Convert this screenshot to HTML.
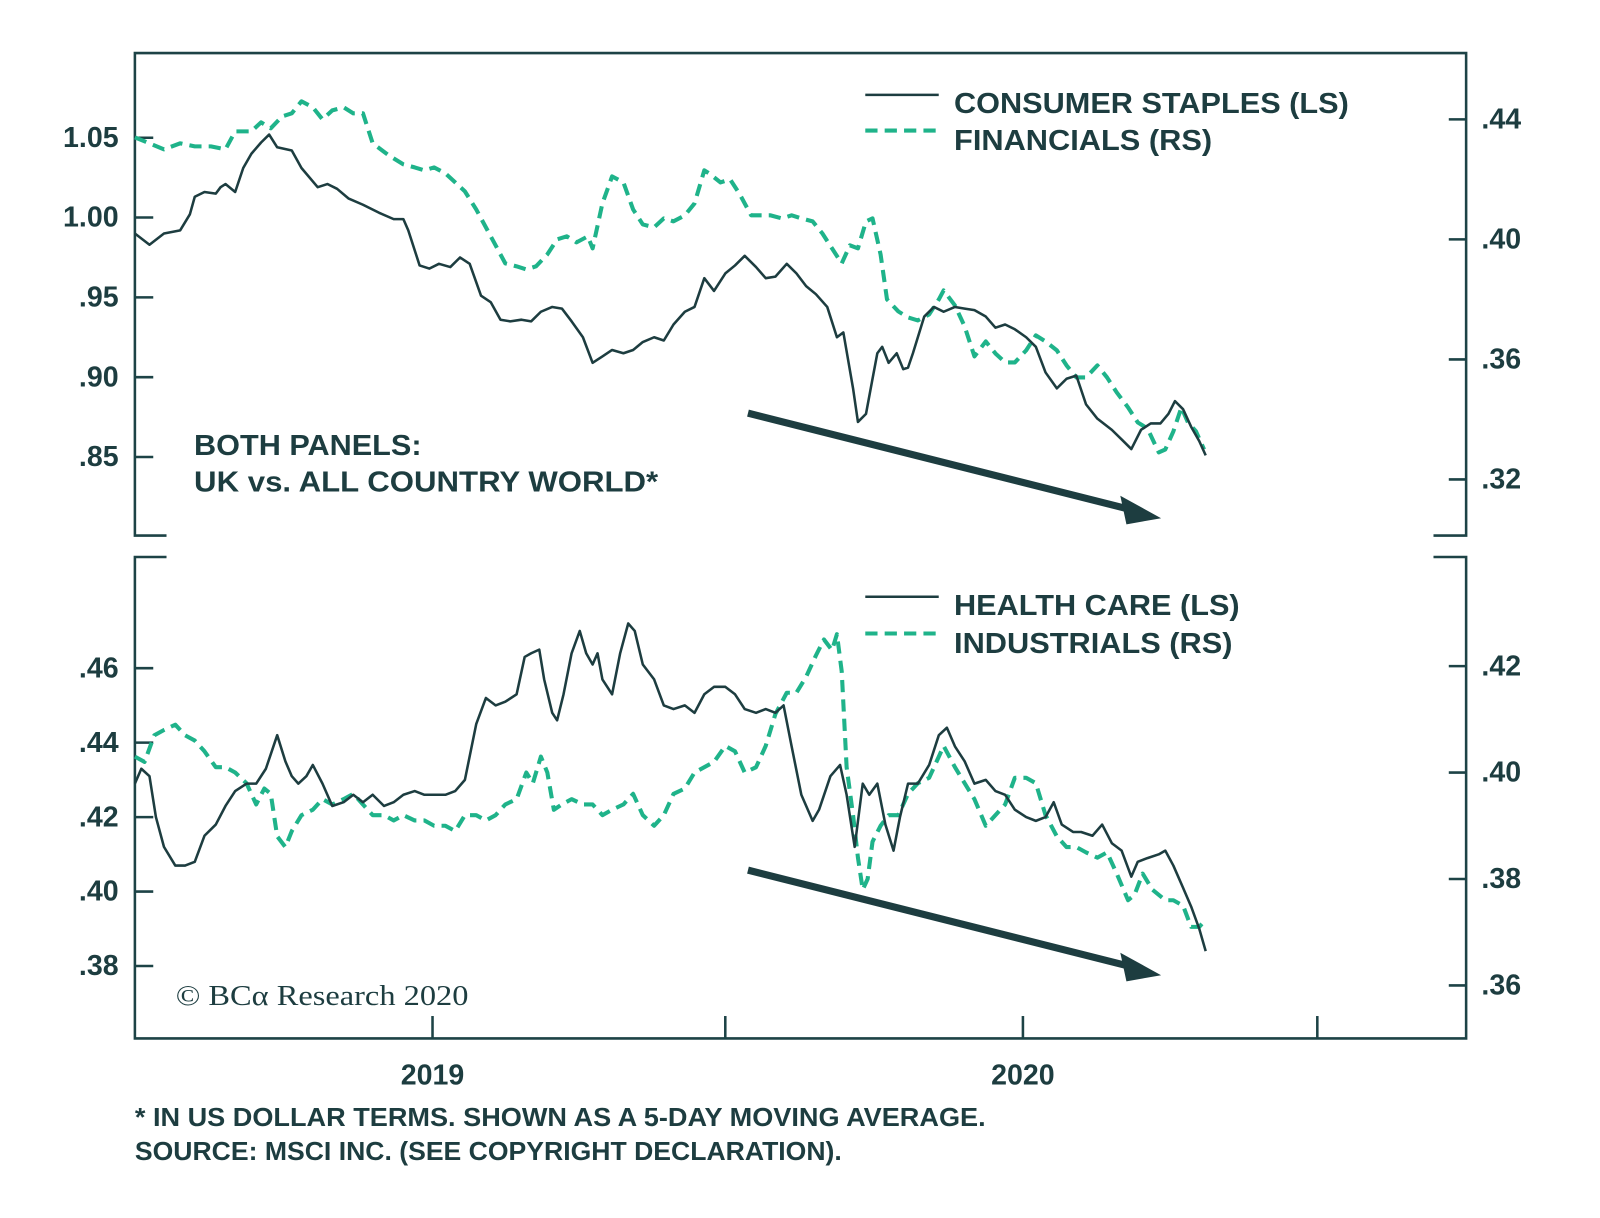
<!DOCTYPE html>
<html><head><meta charset="utf-8"><style>
html,body{margin:0;padding:0;background:#fff;}
svg{display:block;font-family:"Liberation Sans",sans-serif;}
.t{fill:#1d3d40;font-weight:bold;}
</style></head><body>
<svg id="chart" width="1600" height="1218" viewBox="0 0 1568 1194">
<g id="frame" stroke="#1d4346" stroke-width="2.5" fill="none">
<polyline points="163,525 132,525 132,52 1437,52 1437,525 1405,525"/>
<polyline points="163,546 132,546 132,1018 1437,1018 1437,546 1405,546"/>
</g>
<g id="ticks" stroke="#1d4346" stroke-width="2.5"></g>
<g id="labels"></g>
<g id="series"></g>
<g>
<line x1="733" y1="405" x2="1110" y2="500" stroke="#1d3d40" stroke-width="7"/>
<polygon points="1138,508 1098,486 1104,514" fill="#1d3d40"/>
</g>
<g>
<line x1="733" y1="853" x2="1110" y2="948" stroke="#1d3d40" stroke-width="7"/>
<polygon points="1138,956 1098,934 1104,962" fill="#1d3d40"/>
</g>
<g>
<line x1="848" y1="93" x2="920" y2="93" stroke="#1d3d40" stroke-width="2.5"/>
<text class="t" x="935" y="111" font-size="28" textLength="387" lengthAdjust="spacingAndGlyphs">CONSUMER STAPLES (LS)</text>
<line x1="848" y1="128" x2="920" y2="128" stroke="#1fb38a" stroke-width="4" stroke-dasharray="12,7"/>
<text class="t" x="935" y="147" font-size="28" textLength="253" lengthAdjust="spacingAndGlyphs">FINANCIALS (RS)</text>
</g>
<g>
<line x1="848" y1="585" x2="920" y2="585" stroke="#1d3d40" stroke-width="2.5"/>
<text class="t" x="935" y="603" font-size="28" textLength="280" lengthAdjust="spacingAndGlyphs">HEALTH CARE (LS)</text>
<line x1="848" y1="621" x2="920" y2="621" stroke="#1fb38a" stroke-width="4" stroke-dasharray="12,7"/>
<text class="t" x="935" y="640" font-size="28" textLength="273" lengthAdjust="spacingAndGlyphs">INDUSTRIALS (RS)</text>
</g>
<text class="t" x="190" y="446" font-size="28" textLength="223" lengthAdjust="spacingAndGlyphs">BOTH PANELS:</text>
<text class="t" x="190" y="482" font-size="28" textLength="455" lengthAdjust="spacingAndGlyphs">UK vs. ALL COUNTRY WORLD*</text>
<text x="172" y="985" font-size="28" fill="#1d3d40" font-family="Liberation Serif,serif" textLength="287" lengthAdjust="spacingAndGlyphs">© BCα Research 2020</text>
<text class="t" x="132" y="1104" font-size="25" textLength="834" lengthAdjust="spacingAndGlyphs">* IN US DOLLAR TERMS. SHOWN AS A 5-DAY MOVING AVERAGE.</text>
<text class="t" x="132" y="1137" font-size="25" textLength="693" lengthAdjust="spacingAndGlyphs">SOURCE: MSCI INC. (SEE COPYRIGHT DECLARATION).</text>
</svg>
<script>
// days since 2018-07-01
const csDays=[0,9,18,28,34,37,43,50,53,56,62,67,72,78,83,88,97,103,113,119,125,132,141,151,160,166,169,176,182,188,195,201,207,214,220,226,232,239,245,251,258,264,270,277,283,289,295,302,308,314,321,327,333,340,346,352,358,365,371,377,384,390,396,403,409,415,421,428,434,438,444,447,452,456,459,462,466,471,475,478,481,488,494,500,507,513,519,526,532,538,544,551,557,563,570,576,582,588,595,604,610,616,622,628,634,639,643,648,653,658,662];
const csVals=[.990,.983,.990,.992,1.002,1.013,1.016,1.015,1.019,1.021,1.016,1.031,1.040,1.047,1.052,1.044,1.042,1.031,1.019,1.021,1.018,1.012,1.008,1.003,.999,.999,.992,.970,.968,.971,.969,.975,.971,.951,.947,.936,.935,.936,.935,.941,.944,.943,.935,.925,.909,.913,.917,.915,.917,.922,.925,.923,.933,.941,.944,.962,.954,.965,.970,.976,.969,.962,.963,.971,.965,.957,.952,.944,.925,.928,.893,.872,.877,.899,.915,.919,.909,.915,.905,.906,.915,.938,.944,.941,.944,.943,.942,.938,.931,.933,.930,.925,.919,.903,.893,.899,.901,.883,.874,.867,.861,.855,.867,.871,.871,.877,.885,.880,.869,.860,.851];
const finDays=[0,9,18,28,37,47,56,62,72,78,84,91,97,103,110,116,122,129,135,141,147,157,166,173,179,185,192,198,204,211,217,223,229,236,242,248,255,261,267,273,280,283,289,295,302,308,314,321,327,333,340,346,352,355,362,368,374,381,387,393,400,406,412,419,425,431,437,442,447,452,456,461,465,472,478,484,491,497,500,507,513,519,526,532,538,544,551,557,563,570,576,582,588,595,601,607,614,620,626,633,637,642,647,651,656,661];
const finVals=[.434,.432,.430,.432,.431,.431,.430,.436,.436,.439,.437,.441,.442,.446,.444,.440,.443,.444,.442,.442,.432,.428,.425,.424,.423,.424,.422,.419,.416,.410,.404,.398,.392,.391,.390,.391,.395,.400,.401,.399,.401,.397,.412,.421,.419,.410,.405,.404,.407,.406,.408,.412,.423,.422,.419,.420,.415,.408,.408,.408,.407,.408,.407,.406,.402,.397,.392,.398,.397,.406,.407,.395,.380,.376,.374,.373,.375,.380,.383,.378,.371,.361,.366,.362,.359,.359,.363,.368,.366,.363,.358,.354,.354,.358,.354,.349,.344,.339,.337,.329,.330,.336,.344,.339,.336,.330];
const hcDays=[0,4,9,13,18,25,31,37,43,50,56,62,69,75,81,88,93,97,101,106,110,116,122,129,135,141,147,154,160,166,173,179,185,192,198,204,211,217,223,229,236,241,245,250,253,258,261,265,270,275,279,283,286,289,295,300,305,309,314,321,327,333,340,346,352,358,365,371,377,384,390,396,401,406,412,419,423,430,436,440,445,450,454,459,464,469,473,478,484,491,497,502,507,513,519,526,532,538,544,551,557,563,568,573,580,585,592,598,604,610,616,620,626,633,637,642,648,653,658,662];
const hcVals=[.429,.433,.431,.420,.412,.407,.407,.408,.415,.418,.423,.427,.429,.429,.433,.442,.435,.431,.429,.431,.434,.429,.423,.424,.426,.424,.426,.423,.424,.426,.427,.426,.426,.426,.427,.430,.445,.452,.450,.451,.453,.463,.464,.465,.457,.448,.446,.453,.464,.470,.464,.461,.464,.457,.453,.464,.472,.470,.461,.457,.450,.449,.450,.448,.453,.455,.455,.453,.449,.448,.449,.448,.450,.439,.426,.419,.422,.431,.434,.426,.412,.429,.426,.429,.418,.411,.420,.429,.429,.434,.442,.444,.439,.435,.429,.430,.427,.426,.422,.420,.419,.420,.424,.418,.416,.416,.415,.418,.413,.411,.404,.408,.409,.410,.411,.407,.401,.396,.390,.384];
const indDays=[0,6,12,18,25,31,37,43,50,56,62,69,75,80,84,88,93,97,103,110,116,122,129,135,141,147,154,160,166,173,179,185,192,198,204,211,217,223,229,236,242,246,251,255,259,264,270,277,283,289,295,302,308,314,321,327,333,340,346,352,358,365,371,377,384,390,396,403,409,415,421,426,431,434,437,440,444,447,450,453,456,461,466,472,478,484,491,497,500,507,513,519,526,532,538,544,551,557,563,570,576,582,588,595,601,607,614,618,623,629,637,642,648,653,658,661];
const indVals=[.403,.402,.407,.408,.409,.407,.406,.404,.401,.401,.400,.398,.394,.397,.396,.388,.386,.389,.392,.393,.395,.394,.395,.396,.394,.392,.392,.391,.392,.391,.391,.390,.390,.389,.392,.392,.391,.392,.394,.395,.400,.398,.403,.400,.393,.394,.395,.394,.394,.392,.393,.394,.396,.392,.390,.392,.396,.397,.400,.401,.402,.405,.404,.400,.401,.405,.411,.415,.415,.418,.422,.425,.423,.426,.419,.401,.392,.384,.378,.380,.387,.390,.392,.392,.396,.398,.399,.403,.405,.401,.398,.395,.390,.392,.394,.399,.399,.398,.392,.388,.386,.386,.385,.384,.385,.381,.376,.377,.381,.378,.376,.376,.375,.371,.371,.372];
const topLeftTicks=[1.05,1.00,.95,.90,.85];
const topLeftLabels=["1.05","1.00",".95",".90",".85"];
const topRightTicks=[.44,.40,.36,.32];
const topRightLabels=[".44",".40",".36",".32"];
const botLeftTicks=[.46,.44,.42,.40,.38];
const botLeftLabels=[".46",".44",".42",".40",".38"];
const botRightTicks=[.42,.40,.38,.36];
const botRightLabels=[".42",".40",".38",".36"];
const xTickDays=[184,365,549,731];
const xLabelDays=[184,549];
const xLabels=["2019","2020"];

const NS="http://www.w3.org/2000/svg";
const X0=132,X1=1437,D1=823;
const x=d=>X0+(d/D1)*(X1-X0);
const lin=(v0,p0,v1,p1)=>v=>p0+(v-v0)*(p1-p0)/(v1-v0);
const yTL=lin(1.05,135,.85,448);
const yTR=lin(.44,117,.32,470);
const yBL=lin(.46,655,.38,947);
const yBR=lin(.42,653,.36,966);
function el(tag,attrs,parent){const e=document.createElementNS(NS,tag);for(const k in attrs)e.setAttribute(k,attrs[k]);parent.appendChild(e);return e;}
const ticks=document.getElementById('ticks'),labels=document.getElementById('labels'),series=document.getElementById('series');
function leftAxis(vals,labs,sc,name){vals.forEach((v,i)=>{const y=sc(v);
 const t=el('line',{x1:132,x2:150,y1:y,y2:y},ticks);
 
 
 const tx=el('text',{x:116,y:y+9,'text-anchor':'end','font-size':28,class:'t'},labels);tx.textContent=labs[i];
 
 });}
function rightAxis(vals,labs,sc,name){vals.forEach((v,i)=>{const y=sc(v);
 const t=el('line',{x1:1420,x2:1437,y1:y,y2:y},ticks);
 
 
 const tx=el('text',{x:1452,y:y+9,'font-size':28,class:'t'},labels);tx.textContent=labs[i];
 
 });}
leftAxis(topLeftTicks,topLeftLabels,yTL,'top-left-axis');
rightAxis(topRightTicks,topRightLabels,yTR,'top-right-axis');
leftAxis(botLeftTicks,botLeftLabels,yBL,'bottom-left-axis');
rightAxis(botRightTicks,botRightLabels,yBR,'bottom-right-axis');
xTickDays.forEach(d=>{const t=el('line',{x1:x(d),x2:x(d),y1:996,y2:1018},ticks);
 
 });
xLabelDays.forEach((d,i)=>{const tx=el('text',{x:x(d),y:1063,'text-anchor':'middle','font-size':28,class:'t'},labels);tx.textContent=xLabels[i];
 
 });
function line(days,vals,sc,name,dashed){const pts=days.map((d,i)=>x(d).toFixed(1)+','+sc(vals[i]).toFixed(1)).join(' ');
 const attrs={points:pts,fill:'none','stroke-linejoin':'round'};
 if(dashed){attrs.stroke='#1fb38a';attrs['stroke-width']=4;attrs['stroke-dasharray']='12,7';}
 else{attrs.stroke='#1d3d40';attrs['stroke-width']=2.5;}
 const p=el('polyline',attrs,series);
 
 }
line(finDays,finVals,yTR,'financials-line',true);
line(csDays,csVals,yTL,'consumer-staples-line',false);
line(indDays,indVals,yBR,'industrials-line',true);
line(hcDays,hcVals,yBL,'health-care-line',false);
</script>
</body></html>
